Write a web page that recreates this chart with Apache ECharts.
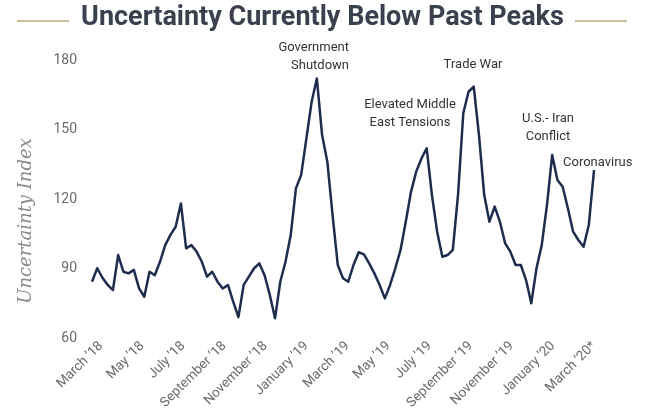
<!DOCTYPE html>
<html>
<head>
<meta charset="utf-8">
<title>Uncertainty Index</title>
<script src="https://cdn.jsdelivr.net/npm/echarts@6/dist/echarts.min.js"></script>
<style>
  html, body { margin: 0; padding: 0; background: #ffffff; }
  #chart { width: 645px; height: 418px; }
</style>
</head>
<body>
<div id="chart"></div>
<script>
// Uncertainty index readings, roughly weekly, mid-February 2018 through March 2020
const uncertaintyValues = [
  84.3, 90.1, 86.0, 82.9, 80.7, 95.8, 88.6, 87.9,
  89.4, 81.4, 77.8, 88.6, 87.1, 92.9, 100.1, 104.5,
  108.0, 118.1, 98.7, 100.1, 97.3, 92.9, 86.5, 88.6,
  84.3, 81.4, 82.9, 75.7, 69.0, 82.9, 86.5, 90.1,
  92.2, 87.1, 78.6, 68.5, 84.3, 92.9, 104.5, 124.6,
  130.4, 146.2, 162.0, 172.0, 147.6, 136.1, 113.1, 91.5,
  85.8, 84.3, 91.5, 97.0, 96.1, 92.2, 87.9, 82.9,
  77.1, 82.9, 90.1, 98.0, 110.2, 123.1, 131.8, 137.5,
  141.9, 121.8, 105.9, 95.1, 95.8, 98.0, 122.0, 157.0,
  166.3, 168.5, 147.6, 121.7, 110.2, 116.7, 110.2, 100.9,
  97.3, 91.5, 91.5, 85.0, 75.0, 90.1, 100.1, 117.4,
  139.0, 128.2, 125.3, 116.0, 105.9, 102.3, 99.4, 108.8,
  132.5
];

// Reading dates, in months since March 2018
const firstReadingMonth = -0.44;
const readingStepMonths = 0.2546;

// Axis labels, one every two months
const tickLabels = [
  "March ’18", "May ’18", "July ’18", "September ’18", "November ’18",
  "January ’19", "March ’19", "May ’19", "July ’19", "September ’19",
  "November ’19", "January ’20", "March ’20*"
];
const tickMonths = [0, 2, 4, 6, 8, 10, 12, 14, 16, 18, 20, 22, 24];

const yTicks = { min: 60, max: 180, step: 30 };

// Event callouts
const events = [
  { text: "Government\nShutdown", x: 349, y: 39, align: "right" },
  { text: "Elevated Middle\nEast Tensions", x: 410, y: 96, align: "center" },
  { text: "Trade War", x: 473, y: 56, align: "center" },
  { text: "U.S.- Iran\nConflict", x: 548, y: 110, align: "center" },
  { text: "Coronavirus", x: 563, y: 154, align: "left" }
];

const seriesData = uncertaintyValues.map((v, i) => [
  +(firstReadingMonth + i * readingStepMonths).toFixed(4), v
]);
const lastMonth = tickMonths[tickMonths.length - 1];

const condensed = "'Liberation Sans Narrow', 'Arial Narrow', 'Roboto', sans-serif";

const chart = echarts.init(document.getElementById("chart"), null, { renderer: "canvas" });

chart.setOption({
  backgroundColor: "#ffffff",
  animation: false,
  grid: { left: 92, right: 51, top: 60, bottom: 80, containLabel: false },
  xAxis: {
    type: "value",
    min: firstReadingMonth,
    max: lastMonth,
    axisLine: { show: false },
    axisTick: { show: false },
    splitLine: { show: false },
    axisLabel: {
      customValues: tickMonths,
      formatter: (val) => {
        const k = tickMonths.indexOf(Math.round(val));
        return k >= 0 ? tickLabels[k] : "";
      },
      rotate: 45,
      margin: 6,
      color: "#6b6b6b",
      fontSize: 13.5,
      fontFamily: condensed
    }
  },
  yAxis: {
    type: "value",
    min: yTicks.min,
    max: yTicks.max,
    interval: yTicks.step,
    axisLine: { show: false },
    axisTick: { show: false },
    splitLine: { show: false },
    axisLabel: {
      margin: 15,
      color: "#6b6b6b",
      fontSize: 14,
      fontFamily: condensed
    },
    name: "Uncertainty Index",
    nameLocation: "middle",
    nameGap: 57,
    nameTextStyle: {
      color: "#8a8a8a",
      fontSize: 18,
      fontStyle: "italic",
      fontFamily: "'DejaVu Serif', 'Liberation Serif', serif",
      padding: [0, 44, 0, 0]
    }
  },
  series: [{
    type: "line",
    data: seriesData,
    showSymbol: false,
    symbol: "none",
    lineStyle: { color: "#1e2d4e", width: 2.5, join: "round" }
  }],
  graphic: [
    {
      type: "text",
      left: "center",
      top: 5,
      style: {
        text: "Uncertainty Currently Below Past Peaks",
        fill: "#3a404e",
        font: "bold 27px " + condensed
      }
    },
    { type: "line", shape: { x1: 17, y1: 21, x2: 69, y2: 21 }, style: { stroke: "#cdbf9f", lineWidth: 2 } },
    { type: "line", shape: { x1: 575, y1: 21, x2: 627, y2: 21 }, style: { stroke: "#cdbf9f", lineWidth: 2 } }
  ].concat(events.map(e => ({
    type: "text",
    x: e.x,
    y: e.y,
    style: {
      text: e.text,
      fill: "#333333",
      font: "13px " + condensed,
      align: e.align,
      verticalAlign: "top",
      lineHeight: 18
    }
  })))
});
</script>
</body>
</html>
